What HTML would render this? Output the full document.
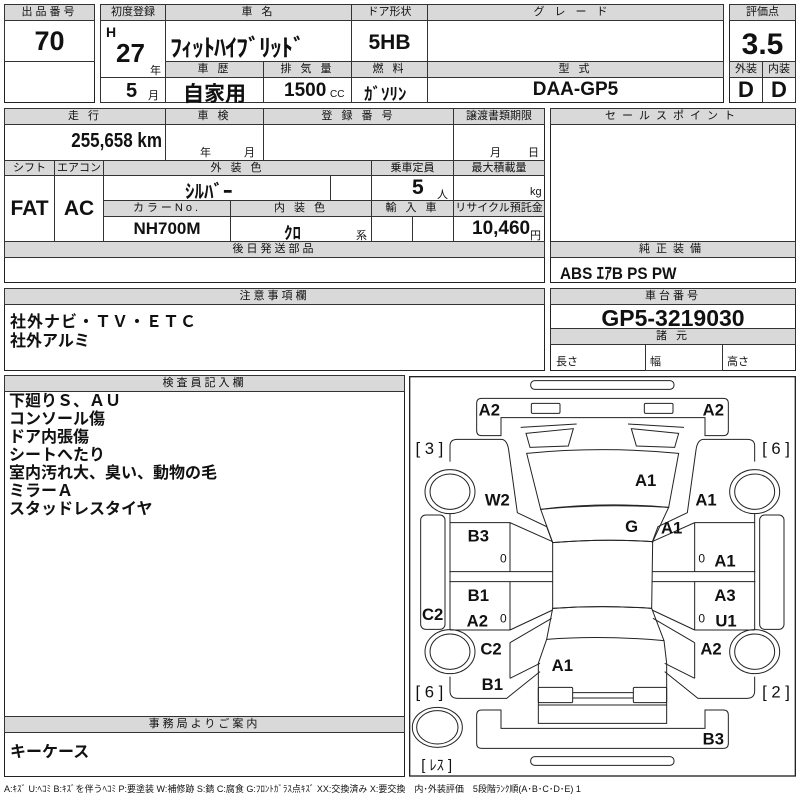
<!DOCTYPE html>
<html><head><meta charset="utf-8"><style>
body{margin:0;width:800px;height:800px;background:#fff;position:relative;overflow:hidden;font-family:"Liberation Sans","Noto Sans CJK JP",sans-serif;color:#111}
.c{position:absolute;border:1px solid #333;box-sizing:border-box}
.h{position:absolute;border:1px solid #333;box-sizing:border-box;background:#d9d9d9;font-size:11px;text-align:center;line-height:14px;letter-spacing:3px;font-family:"Liberation Sans","Noto Sans CJK JP",sans-serif}
.t{position:absolute;font-weight:bold;white-space:nowrap;font-family:"Liberation Sans Narrow","Liberation Sans","Noto Sans CJK JP",sans-serif}
.s{position:absolute;font-size:11px;white-space:nowrap}
.b{position:absolute;border:1.5px solid #222;box-sizing:border-box}
</style></head><body>
<!-- block 1 -->
<div class="b" style="left:4px;top:4px;width:91px;height:99px"></div>
<div class="h" style="left:4px;top:4px;width:91px;height:17px">出品番号</div>
<div class="c" style="left:4px;top:20px;width:91px;height:42px"></div>
<div class="t" style="left:4px;top:26px;width:91px;text-align:center;font-size:27px">70</div>

<div class="b" style="left:100px;top:4px;width:624px;height:99px"></div>
<div class="h" style="left:100px;top:4px;width:66px;height:17px;letter-spacing:0">初度登録</div>
<div class="h" style="left:165px;top:4px;width:187px;height:17px">車 名</div>
<div class="h" style="left:351px;top:4px;width:77px;height:17px;letter-spacing:0">ドア形状</div>
<div class="h" style="left:427px;top:4px;width:297px;height:17px;letter-spacing:10px">グレード</div>
<div class="c" style="left:100px;top:20px;width:66px;height:83px"></div>
<div class="c" style="left:100px;top:77px;width:66px;height:26px"></div>
<div class="t" style="left:106px;top:24px;font-size:14px">H</div>
<div class="t" style="left:116px;top:38px;font-size:26px">27</div>
<div class="s" style="left:150px;top:62px">年</div>
<div class="t" style="left:126px;top:80px;font-size:20px">5</div>
<div class="s" style="left:148px;top:87px">月</div>
<div class="t" style="left:170px;top:28px;font-size:24px;letter-spacing:-1px">ﾌｨｯﾄﾊｲﾌﾞﾘｯﾄﾞ</div>
<div class="t" style="left:351px;top:31px;width:77px;text-align:center;font-size:21px">5HB</div>
<div class="h" style="left:165px;top:61px;width:99px;height:17px">車 歴</div>
<div class="h" style="left:263px;top:61px;width:89px;height:17px">排 気 量</div>
<div class="h" style="left:351px;top:61px;width:77px;height:17px">燃 料</div>
<div class="h" style="left:427px;top:61px;width:297px;height:17px">型 式</div>
<div class="c" style="left:165px;top:77px;width:99px;height:26px"></div>
<div class="c" style="left:263px;top:77px;width:89px;height:26px"></div>
<div class="c" style="left:351px;top:77px;width:77px;height:26px"></div>
<div class="c" style="left:351px;top:20px;width:77px;height:42px"></div>
<div class="t" style="left:165px;top:78px;width:99px;text-align:center;font-size:21px">自家用</div>
<div class="t" style="left:284px;top:80px;font-size:19px">1500</div>
<div class="s" style="left:330px;top:89px;font-size:10px">CC</div>
<div class="t" style="left:364px;top:80px;font-size:17px">ｶﾞｿﾘﾝ</div>
<div class="t" style="left:427px;top:79px;width:297px;text-align:center;font-size:19px">DAA-GP5</div>

<div class="b" style="left:729px;top:4px;width:67px;height:99px"></div>
<div class="h" style="left:729px;top:4px;width:67px;height:17px;letter-spacing:0">評価点</div>
<div class="t" style="left:729px;top:28px;width:67px;text-align:center;font-size:30px">3.5</div>
<div class="h" style="left:729px;top:61px;width:34px;height:17px;letter-spacing:0">外装</div>
<div class="h" style="left:762px;top:61px;width:34px;height:17px;letter-spacing:0">内装</div>
<div class="c" style="left:762px;top:77px;width:34px;height:26px"></div>
<div class="t" style="left:729px;top:77px;width:34px;text-align:center;font-size:22px">D</div>
<div class="t" style="left:762px;top:77px;width:34px;text-align:center;font-size:22px">D</div>

<!-- block 2 -->
<div class="b" style="left:4px;top:108px;width:541px;height:175px"></div>
<div class="h" style="left:4px;top:108px;width:162px;height:17px">走 行</div>
<div class="h" style="left:165px;top:108px;width:99px;height:17px">車 検</div>
<div class="h" style="left:263px;top:108px;width:191px;height:17px">登 録 番 号</div>
<div class="h" style="left:453px;top:108px;width:92px;height:17px;letter-spacing:0">譲渡書類期限</div>
<div class="c" style="left:165px;top:124px;width:99px;height:37px"></div>
<div class="c" style="left:263px;top:124px;width:191px;height:37px"></div>
<div class="t" style="left:4px;top:130px;width:158px;text-align:right;font-size:20px;transform:scaleX(0.85);transform-origin:right">255,658 km</div>
<div class="s" style="left:200px;top:144px">年</div><div class="s" style="left:244px;top:144px">月</div>
<div class="s" style="left:490px;top:144px">月</div><div class="s" style="left:528px;top:144px">日</div>
<div class="h" style="left:4px;top:160px;width:51px;height:16px;letter-spacing:0">シフト</div>
<div class="h" style="left:54px;top:160px;width:50px;height:16px;letter-spacing:0">エアコン</div>
<div class="h" style="left:103px;top:160px;width:269px;height:16px">外 装 色</div>
<div class="h" style="left:371px;top:160px;width:83px;height:16px;letter-spacing:0">乗車定員</div>
<div class="h" style="left:453px;top:160px;width:92px;height:16px;letter-spacing:0">最大積載量</div>
<div class="c" style="left:4px;top:175px;width:51px;height:67px"></div>
<div class="c" style="left:54px;top:175px;width:50px;height:67px"></div>
<div class="t" style="left:4px;top:197px;width:51px;text-align:center;font-size:21px">FAT</div>
<div class="t" style="left:54px;top:197px;width:50px;text-align:center;font-size:21px">AC</div>
<div class="c" style="left:103px;top:175px;width:228px;height:26px"></div>
<div class="c" style="left:330px;top:175px;width:42px;height:26px"></div>
<div class="c" style="left:371px;top:175px;width:83px;height:26px"></div>
<div class="t" style="left:185px;top:177px;font-size:19px">ｼﾙﾊﾞｰ</div>
<div class="t" style="left:412px;top:176px;font-size:21px">5</div><div class="s" style="left:437px;top:186px">人</div>
<div class="s" style="left:530px;top:186px">kg</div>
<div class="h" style="left:103px;top:200px;width:128px;height:17px">カラーNo.</div>
<div class="h" style="left:230px;top:200px;width:142px;height:17px">内 装 色</div>
<div class="h" style="left:371px;top:200px;width:83px;height:17px">輸 入 車</div>
<div class="h" style="left:453px;top:200px;width:92px;height:17px;letter-spacing:0">リサイクル預託金</div>
<div class="c" style="left:103px;top:216px;width:128px;height:26px"></div>
<div class="c" style="left:230px;top:216px;width:142px;height:26px"></div>
<div class="c" style="left:371px;top:216px;width:42px;height:26px"></div>
<div class="c" style="left:412px;top:216px;width:42px;height:26px"></div>
<div class="t" style="left:103px;top:219px;width:128px;text-align:center;font-size:17px">NH700M</div>
<div class="t" style="left:284px;top:219px;font-size:17px">ｸﾛ</div><div class="s" style="left:356px;top:227px">系</div>
<div class="t" style="left:472px;top:218px;font-size:19px">10,460</div><div class="s" style="left:530px;top:227px">円</div>
<div class="h" style="left:4px;top:241px;width:541px;height:17px">後日発送部品</div>

<div class="b" style="left:550px;top:108px;width:246px;height:175px"></div>
<div class="h" style="left:550px;top:108px;width:246px;height:17px;letter-spacing:6px">セールスポイント</div>
<div class="h" style="left:550px;top:241px;width:246px;height:17px;letter-spacing:6px">純正装備</div>
<div class="t" style="left:560px;top:259px;font-size:17px;transform:scaleX(0.9);transform-origin:left">ABS ｴｱB PS PW</div>

<!-- block 3 -->
<div class="b" style="left:4px;top:288px;width:541px;height:83px"></div>
<div class="h" style="left:4px;top:288px;width:541px;height:17px">注意事項欄</div>
<div class="t" style="left:10px;top:308px;font-size:16px;letter-spacing:1px">社外ナビ・ＴＶ・ＥＴＣ</div>
<div class="t" style="left:10px;top:327px;font-size:16px">社外アルミ</div>
<div class="b" style="left:550px;top:288px;width:246px;height:83px"></div>
<div class="h" style="left:550px;top:288px;width:246px;height:17px">車台番号</div>
<div class="t" style="left:550px;top:305px;width:246px;text-align:center;font-size:23px">GP5-3219030</div>
<div class="h" style="left:550px;top:328px;width:246px;height:17px">諸 元</div>
<div class="c" style="left:645px;top:344px;width:78px;height:27px"></div>
<div class="s" style="left:556px;top:353px">長さ</div><div class="s" style="left:650px;top:353px">幅</div><div class="s" style="left:727px;top:353px">高さ</div>

<!-- block 4 -->
<div class="b" style="left:4px;top:375px;width:401px;height:402px"></div>
<div class="h" style="left:4px;top:375px;width:401px;height:17px">検査員記入欄</div>
<div class="t" style="left:9px;top:393px;font-size:16px;line-height:18px">下廻りＳ、ＡＵ<br>コンソール傷<br>ドア内張傷<br>シートへたり<br>室内汚れ大、臭い、動物の毛<br>ミラーＡ<br>スタッドレスタイヤ</div>
<div class="h" style="left:4px;top:716px;width:401px;height:17px">事務局よりご案内</div>
<div class="t" style="left:10px;top:738px;font-size:16px">キーケース</div>

<svg style="position:absolute;left:400px;top:370px" width="400" height="430" viewBox="0 0 1200 1290">
<g fill="none" stroke="#222" stroke-width="3">
<rect x="29" y="20" width="1157" height="1198" stroke-width="4"/>
<rect x="392" y="32" width="430" height="26" rx="12"/>
<rect x="392" y="1160" width="430" height="26" rx="12"/>
<path d="M245,85 H970 Q985,85 985,100 V182 Q985,197 970,197 H915 V143 H303 V197 H245 Q230,197 230,182 V100 Q230,85 245,85 Z"/>
<rect x="394" y="100" width="86" height="30" rx="4"/><rect x="733" y="100" width="86" height="30" rx="4"/>
<path d="M245,1020 H303 V1075 H915 V1020 H970 Q985,1020 985,1035 V1120 Q985,1135 970,1135 H245 Q230,1135 230,1120 V1035 Q230,1020 245,1020Z"/>
<path d="M362,172 L530,162 M852,172 L684,162"/>
<polygon points="378,190 520,176 505,228 390,232"/><polygon points="836,190 694,176 709,228 824,232"/>
<path d="M380,250 Q607,228 836,250 L806,412 Q607,395 422,418 Z"/>
<path d="M422,418 Q607,400 806,412 L758,515 Q607,505 458,518 Z"/>
<path d="M458,518 Q607,505 758,515 L755,715 Q607,705 458,715 Z"/>
<path d="M458,715 Q607,705 755,715 L792,812 Q607,795 440,808 Z"/>
<path d="M440,808 L415,880 V1060 H800 V880 L792,812"/>
<path d="M415,1005 H800"/>
<rect x="415" y="952" width="103" height="46" rx="4"/><rect x="700" y="952" width="100" height="46" rx="4"/>
<path d="M518,968 H700 M518,984 H700"/>
<g id="L">
<path d="M150,275 V228 Q150,208 172,208 H305 Q322,210 326,240 L352,428 L440,470 L458,518"/>
<path d="M150,430 V458 H330 L458,515 M150,458 V780 M148,605 H458 M148,635 H458 M330,458 V605 M330,635 V780 M330,605 L458,605 M330,780 H150 M330,780 L458,720 M330,635 L458,635"/>
<path d="M150,920 V962 Q150,985 172,985 H320 L420,905 M330,925 L420,880 M330,818 L455,745 M330,818 V925"/>
<rect x="62" y="435" width="73" height="343" rx="15"/>
<ellipse cx="150" cy="365" rx="75" ry="66"/><ellipse cx="150" cy="365" rx="60" ry="53"/>
<ellipse cx="150" cy="845" rx="75" ry="66"/><ellipse cx="150" cy="845" rx="60" ry="53"/>
</g>
<use href="#L" transform="translate(1214,0) scale(-1,1)"/>
<ellipse cx="112" cy="1072" rx="75" ry="60"/><ellipse cx="112" cy="1072" rx="62" ry="50"/>
</g>
<g font-family="Liberation Sans Narrow, Liberation Sans, Noto Sans CJK JP, sans-serif" font-weight="bold" font-size="50" text-anchor="middle" fill="#111">
<text x="268" y="137">A2</text><text x="940" y="137">A2</text>
<text x="88" y="252" font-weight="normal">[ 3 ]</text><text x="1128" y="252" font-weight="normal">[ 6 ]</text>
<text x="737" y="348">A1</text><text x="292" y="406">W2</text><text x="918" y="406">A1</text>
<text x="695" y="486">G</text><text x="815" y="490">A1</text>
<text x="235" y="514">B3</text><text x="975" y="590">A1</text><text x="235" y="693">B1</text><text x="975" y="693">A3</text>
<text x="98" y="750">C2</text><text x="232" y="770">A2</text><text x="978" y="770">U1</text>
<text x="273" y="853">C2</text><text x="933" y="853">A2</text><text x="487" y="903">A1</text>
<text x="88" y="983" font-weight="normal">[ 6 ]</text><text x="277" y="960">B1</text><text x="1128" y="983" font-weight="normal">[ 2 ]</text>
<text x="940" y="1123">B3</text><text x="110" y="1200" font-weight="normal" font-size="44">[ ﾚｽ ]</text>
<g font-weight="normal" font-size="36"><text x="310" y="578">0</text><text x="905" y="578">0</text><text x="310" y="758">0</text><text x="905" y="758">0</text></g>
</g>
</svg>
<div class="s" style="left:4px;top:782px;font-size:9px">A:ｷｽﾞ U:ﾍｺﾐ B:ｷｽﾞを伴うﾍｺﾐ P:要塗装 W:補修跡 S:錆 C:腐食 G:ﾌﾛﾝﾄｶﾞﾗｽ点ｷｽﾞ XX:交換済み X:要交換　内･外装評価　5段階ﾗﾝｸ順(A･B･C･D･E) 1</div>
</body></html>
